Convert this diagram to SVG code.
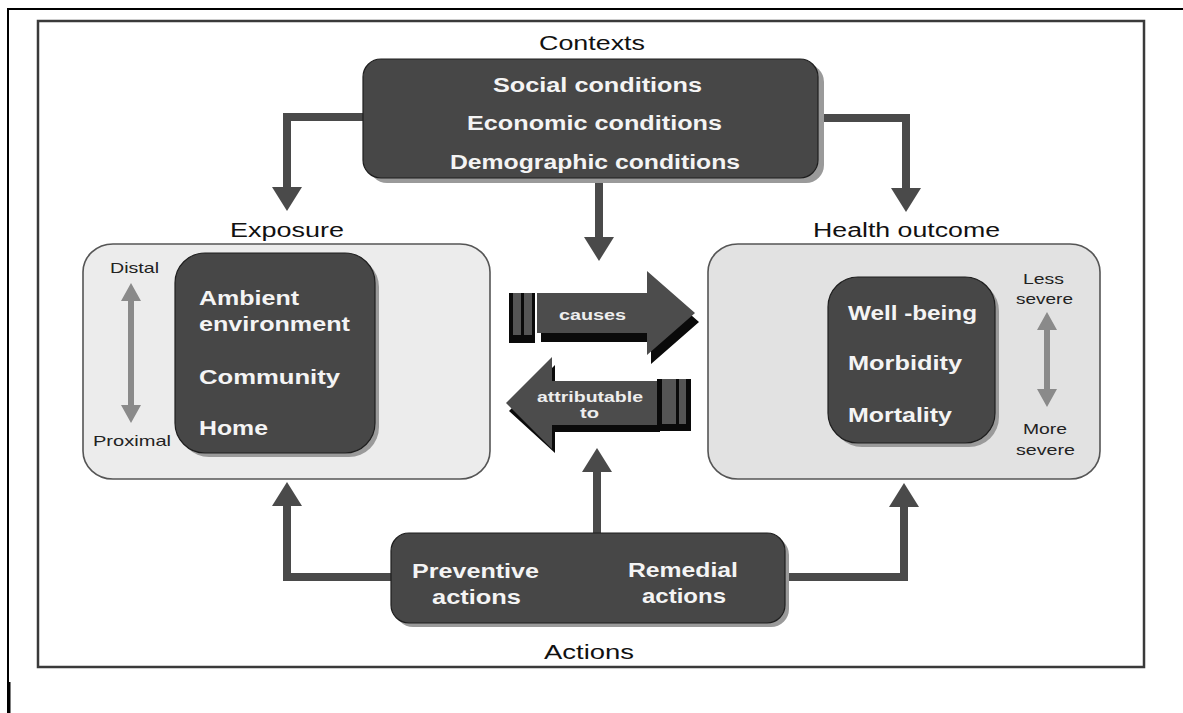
<svg xmlns="http://www.w3.org/2000/svg" width="1183" height="713" viewBox="0 0 1183 713">
<style>
text{font-family:"Liberation Sans",Arial,sans-serif;}
.lbl{font-size:20px;fill:#111;}
.wt{font-size:20px;font-weight:bold;fill:#f4f4f4;}
.sm{font-size:15px;fill:#222;}
.ar{font-size:14px;font-weight:bold;fill:#eeeeee;}
.dark{fill:#474747;stroke:#1e1e1e;stroke-width:1.2;}
.shadow{fill:#9a9a9a;}
.light{stroke:#555;stroke-width:1.6;}
.conn{fill:none;stroke:#4a4a4a;stroke-width:8;stroke-linejoin:miter;}
.thin{fill:none;stroke:#111;stroke-width:1.8;}
.gray{fill:#8a8a8a;}
.face{fill:#4c4c4c;}
.blk{fill:#0a0a0a;}
.stripe{fill:#555;}
</style>
<defs>
<marker id="big" markerUnits="userSpaceOnUse" markerWidth="24" markerHeight="30" viewBox="0 0 24 30" refX="0" refY="15" orient="auto">
<path d="M0,0 L24,15 L0,30 z" fill="#4a4a4a"/>
</marker>
<marker id="small" markerUnits="userSpaceOnUse" markerWidth="11" markerHeight="8" viewBox="0 0 11 8" refX="10" refY="4" orient="auto">
<path d="M0,0 L11,4 L0,8 z" fill="#111"/>
</marker>
</defs>
<rect width="1183" height="713" fill="#fff"/>
<!-- outer frame lines -->
<line x1="8" y1="9" x2="1183" y2="9" stroke="#000" stroke-width="2"/>
<line x1="8" y1="8" x2="8" y2="713" stroke="#000" stroke-width="2"/>
<line x1="9" y1="682" x2="9" y2="713" stroke="#000" stroke-width="3"/>
<!-- inner frame -->
<rect x="38" y="21" width="1106" height="646" fill="none" stroke="#3a3a3a" stroke-width="2.5"/>

<g id="connectors">
<path class="conn" d="M363,117 H287 V187" marker-end="url(#big)"/>
<path class="conn" d="M818,118 H906 V188" marker-end="url(#big)"/>
<path class="conn" d="M599,178 V237" marker-end="url(#big)"/>
<path class="conn" d="M391,577 H287 V506" marker-end="url(#big)"/>
<path class="conn" d="M785,577 H904 V507" marker-end="url(#big)"/>
<path class="conn" d="M597,533 V472" marker-end="url(#big)"/>
<line class="thin" x1="380" y1="339" x2="460" y2="307" marker-end="url(#small)"/>
<line class="thin" x1="378" y1="358" x2="467" y2="358" marker-end="url(#small)"/>
<line class="thin" x1="380" y1="374" x2="460" y2="413" marker-end="url(#small)"/>
<line class="thin" x1="821" y1="339" x2="741" y2="307" marker-end="url(#small)"/>
<line class="thin" x1="824" y1="358" x2="733" y2="358" marker-end="url(#small)"/>
<line class="thin" x1="821" y1="375" x2="741" y2="413" marker-end="url(#small)"/>
</g>

<g id="contexts">
<text class="lbl" x="539" y="50" textLength="106" lengthAdjust="spacingAndGlyphs">Contexts</text>
<rect class="shadow" x="369" y="64" width="455" height="119" rx="18"/>
<rect class="dark" x="363" y="59" width="455" height="119" rx="18"/>
<text class="wt" x="493" y="92" textLength="209" lengthAdjust="spacingAndGlyphs">Social conditions</text>
<text class="wt" x="467" y="130" textLength="255" lengthAdjust="spacingAndGlyphs">Economic conditions</text>
<text class="wt" x="450" y="169" textLength="290" lengthAdjust="spacingAndGlyphs">Demographic conditions</text>
</g>

<g id="exposure">
<text class="lbl" x="230" y="237" textLength="114" lengthAdjust="spacingAndGlyphs">Exposure</text>
<rect class="light" x="83" y="244" width="407" height="235" rx="30" ry="28" fill="#ececec"/>
<rect class="shadow" x="179" y="257" width="200" height="200" rx="30"/>
<rect class="dark" x="175" y="253" width="200" height="200" rx="30"/>
<text class="wt" x="199" y="305" textLength="100" lengthAdjust="spacingAndGlyphs">Ambient</text>
<text class="wt" x="199" y="331" textLength="151" lengthAdjust="spacingAndGlyphs">environment</text>
<text class="wt" x="199" y="384" textLength="141" lengthAdjust="spacingAndGlyphs">Community</text>
<text class="wt" x="199" y="435" textLength="69" lengthAdjust="spacingAndGlyphs">Home</text>
<text class="sm" x="110" y="273" textLength="49" lengthAdjust="spacingAndGlyphs">Distal</text>
<text class="sm" x="93" y="446" textLength="78" lengthAdjust="spacingAndGlyphs">Proximal</text>
<polygon class="gray" points="131,283 141,301 134,301 134,405 141,405 131,423 121,405 128,405 128,301 121,301"/>
</g>

<g id="health">
<text class="lbl" x="813" y="237" textLength="187" lengthAdjust="spacingAndGlyphs">Health outcome</text>
<rect class="light" x="708" y="244" width="392" height="235" rx="30" ry="28" fill="#e2e2e2"/>
<rect class="shadow" x="832" y="281" width="167" height="166" rx="30"/>
<rect class="dark" x="828" y="277" width="167" height="166" rx="30"/>
<text class="wt" x="848" y="320" textLength="129" lengthAdjust="spacingAndGlyphs">Well -being</text>
<text class="wt" x="848" y="370" textLength="114" lengthAdjust="spacingAndGlyphs">Morbidity</text>
<text class="wt" x="848" y="422" textLength="104" lengthAdjust="spacingAndGlyphs">Mortality</text>
<text class="sm" x="1023" y="284" textLength="41" lengthAdjust="spacingAndGlyphs">Less</text>
<text class="sm" x="1016" y="304" textLength="57" lengthAdjust="spacingAndGlyphs">severe</text>
<text class="sm" x="1023" y="434" textLength="44" lengthAdjust="spacingAndGlyphs">More</text>
<text class="sm" x="1016" y="455" textLength="59" lengthAdjust="spacingAndGlyphs">severe</text>
<polygon class="gray" points="1047,312 1057,330 1050,330 1050,389 1057,389 1047,407 1037,389 1044,389 1044,330 1037,330"/>
</g>

<g id="causes">
<polygon class="blk" points="541,302 651,302 651,280 699,322 651,364 651,342 541,342"/>
<polygon class="face" points="537,293 647,293 647,271 695,313 647,355 647,333 537,333"/>
<rect class="blk" x="509" y="293" width="26" height="50"/>
<rect class="stripe" x="513" y="293" width="8" height="42"/>
<rect class="stripe" x="524" y="293" width="8" height="42"/>
<text class="ar" x="559" y="320" textLength="67" lengthAdjust="spacingAndGlyphs">causes</text>
</g>

<g id="attributable">
<polygon class="blk" points="509,411 555,365 555,389 660,389 660,432 555,432 555,453"/>
<polygon class="face" points="506,403 552,357 552,381 657,381 657,425 552,425 552,449"/>
<rect class="blk" x="657" y="379" width="34" height="52"/>
<rect class="stripe" x="662" y="379" width="14" height="45"/>
<rect class="stripe" x="679" y="379" width="7" height="45"/>
<text class="ar" x="537" y="402" textLength="106" lengthAdjust="spacingAndGlyphs">attributable</text>
<text class="ar" x="580" y="418" textLength="19" lengthAdjust="spacingAndGlyphs">to</text>
</g>

<g id="actions">
<rect class="shadow" x="395" y="537" width="394" height="90" rx="18"/>
<rect class="dark" x="391" y="533" width="394" height="90" rx="18"/>
<text class="wt" x="412" y="578" textLength="127" lengthAdjust="spacingAndGlyphs">Preventive</text>
<text class="wt" x="432" y="604" textLength="89" lengthAdjust="spacingAndGlyphs">actions</text>
<text class="wt" x="628" y="577" textLength="110" lengthAdjust="spacingAndGlyphs">Remedial</text>
<text class="wt" x="642" y="603" textLength="84" lengthAdjust="spacingAndGlyphs">actions</text>
<text class="lbl" x="544" y="659" textLength="90" lengthAdjust="spacingAndGlyphs">Actions</text>
</g>
</svg>
